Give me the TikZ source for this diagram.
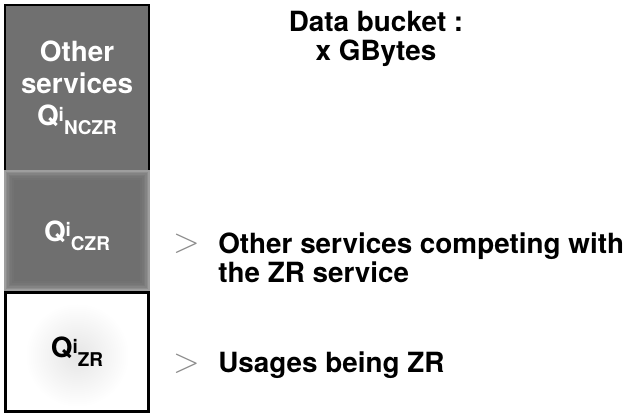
\documentclass[tikz,border=0pt]{standalone}
\usepackage{fontspec}
\setmainfont{TeX Gyre Heros}
\newcommand{\qlab}[1]{Q\raisebox{3.5pt}{\fontsize{13.5}{13.5}\selectfont i}\raisebox{-6.4pt}{\fontsize{13.5}{13.5}\selectfont #1}}
\tikzset{
  boxtext/.style={text=white, font=\bfseries\fontsize{19.8}{23}\selectfont, align=center, inner sep=0pt},
  notetext/.style={font=\bfseries\fontsize{19.8}{21.3}\selectfont, inner sep=0pt},
  bulletsign/.style={text=black!45, font=\fontsize{23}{23}\selectfont, inner sep=0pt, anchor=base}
}
\begin{document}
\begin{tikzpicture}
  \useasboundingbox (0,0) rectangle (15.7,10.375);
  % other services
  \fill[black!56] (0.125,6.125) rectangle (3.725,10.25);
  \draw[line width=1.4pt] (0.125,6.125) -- (0.125,10.25) -- (3.725,10.25) -- (3.725,6.125);
  % competing services, soft edges
  \fill[black!38] (0.1,3.1) rectangle (3.75,6.125);
  \foreach \k in {1,...,6}
    \fill[black!58, opacity=0.3] (0.1+\k*0.04,3.1+\k*0.04) rectangle (3.75-\k*0.04,6.125-\k*0.04);
  % zr usages
  \shade[inner color=black!10, outer color=white] (1.925,1.5) circle (1.3);
  \draw[line width=2.1pt] (0.1375,0.09) rectangle (3.7125,3.0625);

  \node[boxtext, anchor=base] (nczr) at (1.925,7.225) {Other\\services\\\qlab{NCZR}};
  \node[boxtext, anchor=base] (czr) at (1.925,4.33) {\qlab{CZR}};
  \node[boxtext, text=black, anchor=base] (zr) at (1.925,1.425) {\qlab{ZR}};

  \node[notetext, align=center, anchor=base] (bucket) at (9.4,8.85) {Data bucket :\\x GBytes};
  \node[bulletsign] (gt1) at (4.66,4.05) {$>$};
  \node[notetext, align=left, anchor=base west] (compet) at (5.45,3.3) {Other services competing with\\the ZR service};
  \node[bulletsign] (gt2) at (4.66,1.05) {$>$};
  \node[notetext, anchor=base west] (usage) at (5.45,1.05) {Usages being ZR};
\end{tikzpicture}
\end{document}
